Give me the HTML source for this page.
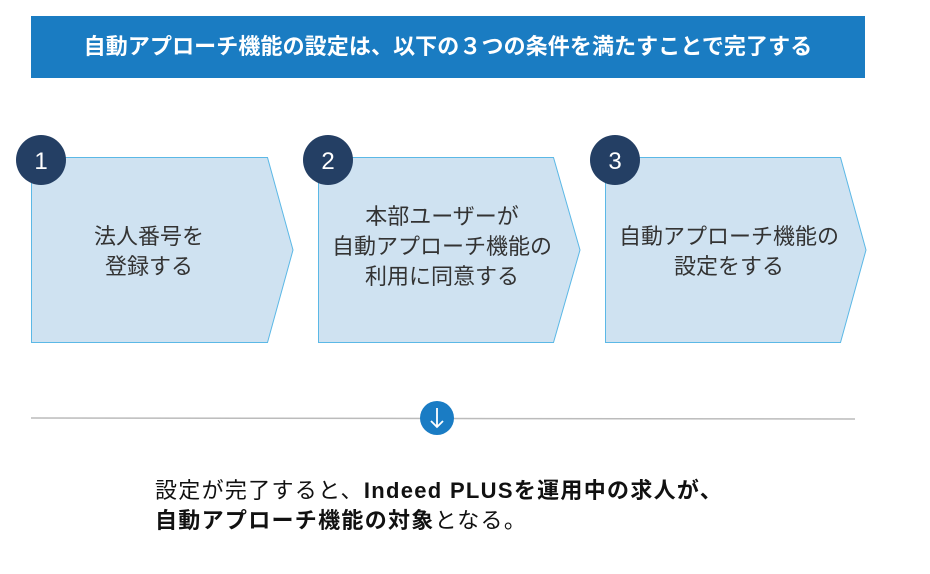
<!DOCTYPE html>
<html><head><meta charset="utf-8"><style>
html,body{margin:0;padding:0;background:#fff;width:930px;height:574px;overflow:hidden}
body{font-family:"Liberation Sans","Noto Sans CJK JP",sans-serif;position:relative}
.hdr{position:absolute;left:31px;top:16px;width:834px;height:62px;background:#1a7cc2;color:#fff;font-weight:bold;font-size:22px;line-height:62px;text-align:center;letter-spacing:0.1px}
.t{position:absolute;font-size:22px;color:#333;text-align:center;line-height:30px}
.bt{position:absolute;left:155px;top:476px;font-size:22px;line-height:30px;color:#111;letter-spacing:1.3px}
</style></head><body>
<div class="hdr">自動アプローチ機能の設定は、以下の３つの条件を満たすことで完了する</div>
<svg width="930" height="574" style="position:absolute;left:0;top:0">
<g fill="#cfe2f1" stroke="#5bb8e6" stroke-width="1">
<polygon points="31.5,157.5 267.5,157.5 293,250 267.5,342.5 31.5,342.5"/>
<polygon points="318.5,157.5 553.5,157.5 580,250 553.5,342.5 318.5,342.5"/>
<polygon points="605.5,157.5 840.5,157.5 866,250 840.5,342.5 605.5,342.5"/>
</g>
<g fill="#243f64">
<circle cx="41" cy="160" r="25"/><circle cx="328" cy="160" r="25"/><circle cx="615" cy="160" r="25"/>
</g>
<g fill="#fff" font-size="24" text-anchor="middle" font-family="Liberation Sans, sans-serif">
<text x="41" y="169">1</text><text x="328" y="169">2</text><text x="615" y="169">3</text>
</g>
<line x1="31" y1="418" x2="855" y2="419" stroke="#bbb" stroke-width="1.5"/>
<circle cx="437" cy="418" r="17" fill="#1a7cc4"/>
<path d="M437 408 V427 M431 421 L437 427 L443 421" stroke="#fff" stroke-width="1.8" fill="none"/>
</svg>
<div class="t" style="left:31px;top:222px;width:236px">法人番号を<br>登録する</div>
<div class="t" style="left:318px;top:202px;width:248px">本部ユーザーが<br>自動アプローチ機能の<br>利用に同意する</div>
<div class="t" style="left:605px;top:222px;width:248px">自動アプローチ機能の<br>設定をする</div>
<div class="bt">設定が完了すると、<b>Indeed PLUSを運用中の求人が、</b><br><b>自動アプローチ機能の対象</b>となる。</div>
</body></html>
